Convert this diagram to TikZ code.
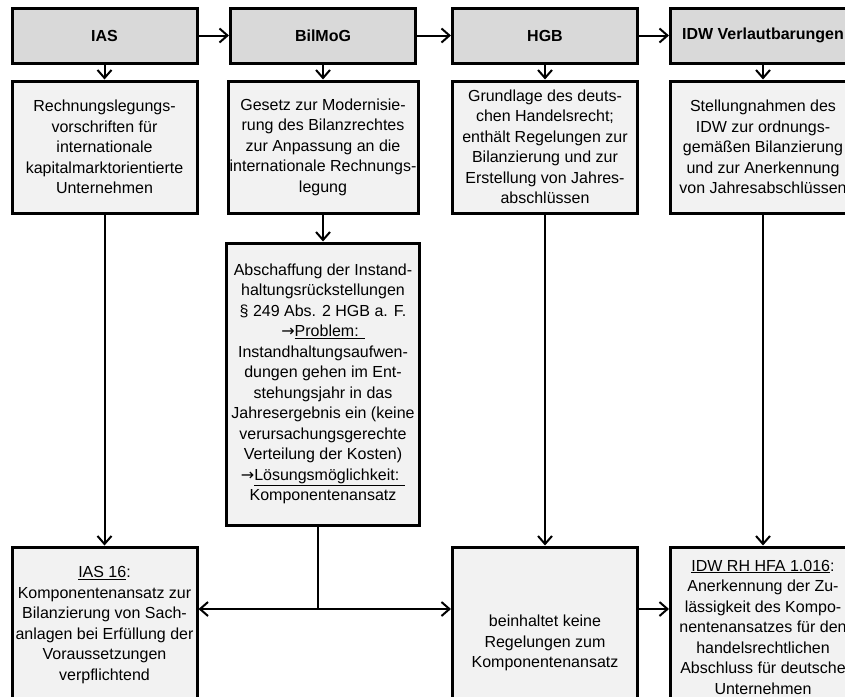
\documentclass[tikz,border=0pt]{standalone}
\usepackage{fontspec}
\setmainfont{Liberation Sans}
\newfontfamily\pfeilfont{DejaVu Sans}
\usetikzlibrary{arrows.meta}
\definecolor{kopfgrau}{HTML}{D9D9D9}
\definecolor{feldgrau}{HTML}{F2F2F2}
\newcommand{\textpfeil}{{\pfeilfont →}}

\begin{document}
\begin{tikzpicture}[x=1pt,y=-1pt,
    kopf/.style={draw, line width=3pt, fill=kopfgrau, minimum width=185pt, minimum height=55pt,
      font=\fontsize{16}{20.5}\selectfont\bfseries},
    feld/.style={draw, line width=3pt, fill=feldgrau, minimum width=185pt, align=center,
      inner xsep=1pt, font=\fontsize{16}{20.5}\selectfont},
    pfeil/.style={line width=2pt, -{Straight Barb[length=8pt,width=14pt,line width=2pt]}}]
    \clip (0,0) rectangle (845,696);
    \node[kopf] (ias) at (104.5,35.5) {IAS};
    \node[kopf] (bilmog) at (323,35.5) {BilMoG};
    \node[kopf] (hgb) at (545,35.5) {HGB};
    \node[kopf] (idw) at (763,35.5) {IDW Verlautbarungen};
    \node[feld, minimum height=132pt] (iasText) at (104.5,147)
      {Rechnungslegungs-\\vorschriften für\\internationale\\kapitalmarktorientierte\\Unternehmen};
    \node[feld, minimum height=132pt, minimum width=190pt] (bilmogText) at (323,147)
      {Gesetz zur Modernisie-\\rung des Bilanzrechtes\\zur Anpassung an die\\internationale Rechnungs-\\legung};
    \node[feld, minimum height=132pt] (hgbText) at (545,147)
      {Grundlage des deuts-\\chen Handelsrecht;\\enthält Regelungen zur\\Bilanzierung und zur\\Erstellung von Jahres-\\abschlüssen};
    \node[feld, minimum height=132pt] (idwText) at (763,147)
      {Stellungnahmen des\\IDW zur ordnungs-\\gemäßen Bilanzierung\\und zur Anerkennung\\von Jahresabschlüssen};
    \node[feld, minimum height=282pt, minimum width=193pt] (abschaffung) at (323,384)
      {Abschaffung der Instand-\\haltungsrückstellungen\\§ 249 Abs. 2 HGB a. F.\\\textpfeil\underline{Problem: }\\Instandhaltungsaufwen-\\dungen gehen im Ent-\\stehungsjahr in das\\Jahresergebnis ein (keine\\verursachungsgerechte\\Verteilung der Kosten)\\\textpfeil\underline{Lösungsmöglichkeit: }\\Komponentenansatz};
    \node[feld, minimum height=156pt] (ias16) at (104.5,625)
      {\underline{IAS 16}:\\Komponentenansatz zur\\Bilanzierung von Sach-\\anlagen bei Erfüllung der\\Voraussetzungen\\verpflichtend};
    \node[feld, minimum height=192pt] (hgbKomp) at (545,643)
      {beinhaltet keine\\Regelungen zum\\Komponentenansatz};
    \node[feld, minimum height=160pt] (idwRH) at (763,627)
      {\underline{IDW RH HFA 1.016}:\\Anerkennung der Zu-\\lässigkeit des Kompo-\\nentenansatzes für den\\handelsrechtlichen\\Abschluss für deutsche\\Unternehmen};
    \coordinate (knoten) at (318,609);
    \foreach \a/\b in {ias/bilmog,bilmog/hgb,hgb/idw}
      \draw[pfeil] (\a) -- (\b);
    \foreach \a/\b in {ias/iasText,bilmog/bilmogText,hgb/hgbText,idw/idwText,bilmogText/abschaffung,iasText/ias16,hgbText/hgbKomp,idwText/idwRH}
      \draw[pfeil] (\a) -- (\b);
    \draw[line width=2pt] (abschaffung.south -| knoten) -- (knoten);
    \draw[pfeil] (knoten) -- (knoten -| ias16.east);
    \draw[pfeil] (knoten) -- (knoten -| hgbKomp.west);
    \draw[pfeil] (knoten -| hgbKomp.east) -- (knoten -| idwRH.west);
  \end{tikzpicture}
\end{document}
